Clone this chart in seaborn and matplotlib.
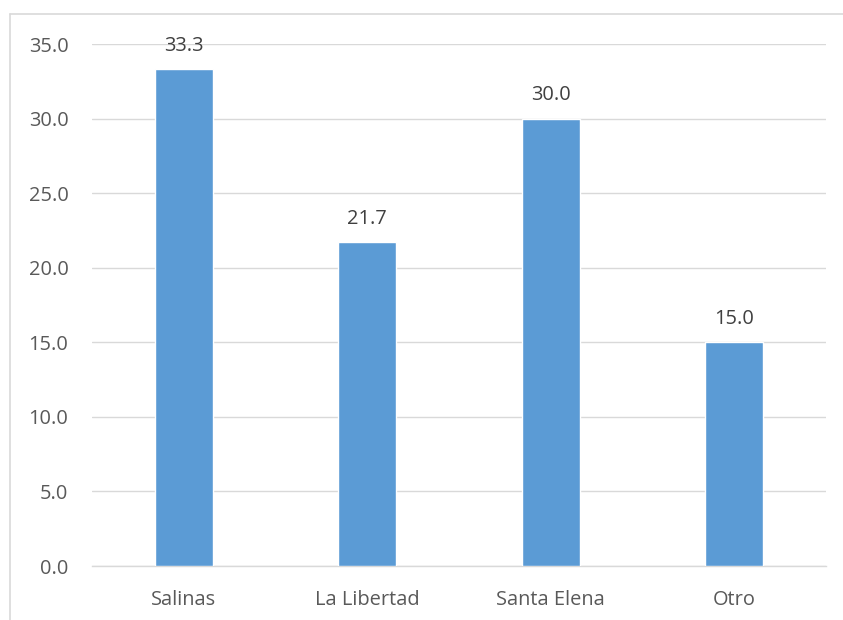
import matplotlib
matplotlib.use("Agg")
import matplotlib.pyplot as plt
from matplotlib.lines import Line2D
import seaborn as sns
import pandas as pd

# Datos del gráfico
categorias = ["Salinas", "La Libertad", "Santa Elena", "Otro"]
porcentajes = [33.3, 21.7, 30.0, 15.0]
marcas_y = [0, 5, 10, 15, 20, 25, 30, 35]

df = pd.DataFrame({"categoria": categorias, "porcentaje": porcentajes})

sns.set_theme(style="white")
plt.rcParams["font.family"] = ["Open Sans", "DejaVu Sans"]

W, H = 843, 620
fig = plt.figure(figsize=(W / 100, H / 100), dpi=100)
ax = fig.add_axes([92 / W, 1 - 566 / H, (826 - 92) / W, (566 - 44) / H])

sns.barplot(data=df, x="categoria", y="porcentaje", color="#5B9BD5",
            saturation=1, width=0.316, ax=ax, zorder=3)

ax.set_ylim(0, 35)
ax.set_xlim(-0.5, 3.5)
ax.set_yticks(marcas_y)
ax.set_yticklabels([f"{v:.1f}" for v in marcas_y])
ax.yaxis.grid(True, color="#D9D9D9", linewidth=1.0, zorder=0)
ax.xaxis.grid(False)
for s in ["top", "right", "left"]:
    ax.spines[s].set_visible(False)
ax.spines["bottom"].set_color("#D9D9D9")
ax.spines["bottom"].set_linewidth(1.0)
ax.set_xlabel("")
ax.set_ylabel("")
ax.tick_params(axis="both", length=0, colors="#595959", labelsize=14.4)
ax.tick_params(axis="y", pad=17)
ax.tick_params(axis="x", pad=17)

ax.bar_label(ax.containers[0], fmt="%.1f", padding=9.5, color="#404040", fontsize=14.4)

# Marco exterior del área del gráfico
bx, by = 10 / W, 1 - 14 / H
fig.add_artist(Line2D([bx, 1.0], [by, by], transform=fig.transFigure,
                      color="#D9D9D9", linewidth=1.2))
fig.add_artist(Line2D([bx, bx], [0.0, by], transform=fig.transFigure,
                      color="#D9D9D9", linewidth=1.2))

fig.savefig("out.png", dpi=100)
